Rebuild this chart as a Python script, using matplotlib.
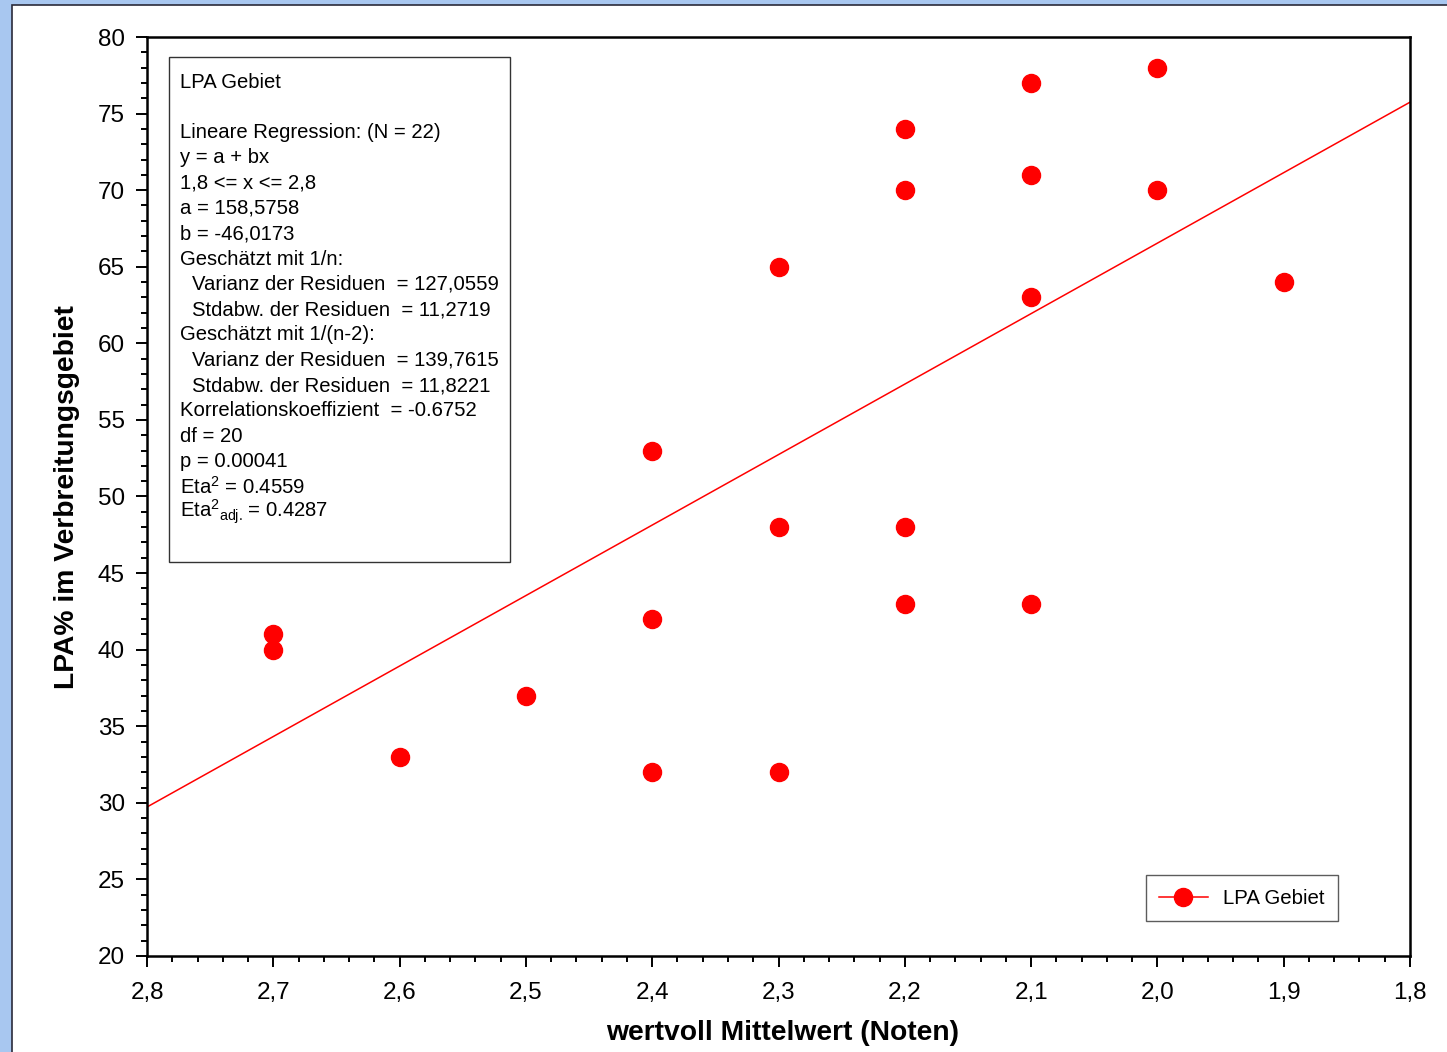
import matplotlib
matplotlib.use("Agg")
import matplotlib.pyplot as plt
from matplotlib.patches import Rectangle
from matplotlib.lines import Line2D
from matplotlib.ticker import MultipleLocator, FuncFormatter
import numpy as np

plt.rcParams['font.family'] = ['Liberation Sans', 'DejaVu Sans']
plt.rcParams['mathtext.fontset'] = 'custom'
plt.rcParams['mathtext.rm'] = 'Liberation Sans'
plt.rcParams['mathtext.it'] = 'Liberation Sans'
plt.rcParams['mathtext.bf'] = 'Liberation Sans:bold'

# Data
x_vals = [2.7, 2.7, 2.6, 2.5, 2.4, 2.4, 2.4, 2.3, 2.3, 2.3,
          2.2, 2.2, 2.2, 2.2, 2.1, 2.1, 2.1, 2.1, 2.0, 2.0, 1.9]
y_vals = [41, 40, 33, 37, 53, 42, 32, 65, 48, 32,
          74, 70, 48, 43, 77, 71, 63, 43, 78, 70, 64]
reg_a = 158.5758
reg_b = -46.0173
reg_x_range = [2.8, 1.8]
series_name = "LPA Gebiet"
x_label = "wertvoll Mittelwert (Noten)"
y_label = "LPA% im Verbreitungsgebiet"

stats_lines = [
    (0, "LPA Gebiet"),
    (0, ""),
    (0, "Lineare Regression: (N = 22)"),
    (0, "y = a + bx"),
    (0, "1,8 <= x <= 2,8"),
    (0, "a = 158,5758"),
    (0, "b = -46,0173"),
    (0, "Geschätzt mit 1/n:"),
    (1, "Varianz der Residuen  = 127,0559"),
    (1, "Stdabw. der Residuen  = 11,2719"),
    (0, "Geschätzt mit 1/(n-2):"),
    (1, "Varianz der Residuen  = 139,7615"),
    (1, "Stdabw. der Residuen  = 11,8221"),
    (0, "Korrelationskoeffizient  = -0.6752"),
    (0, "df = 20"),
    (0, "p = 0.00041"),
    (0, r"Eta$^2$ = 0.4559"),
    (0, r"Eta$^{2}{}_{\rm adj.}\,$= 0.4287"),
]

W, H = 1447, 1052
fig = plt.figure(figsize=(W / 100, H / 100), dpi=100)
fig.patch.set_facecolor('#a8c7f0')
fig.patches.append(Rectangle((12 / W, -0.1), 1.2, 1.1 - 5 / H, transform=fig.transFigure,
                             facecolor='white', edgecolor='#2a2a3a', linewidth=1.2, zorder=-5))

ax = fig.add_axes([147 / W, 1 - 956 / H, (1410 - 147) / W, (956 - 37) / H])
ax.set_facecolor('white')

# regression line
rx = np.array(reg_x_range)
ax.plot(rx, reg_a + reg_b * rx, color='#ff0000', linewidth=1.1, zorder=2)
ax.plot(x_vals, y_vals, linestyle='none', marker='o', markersize=13,
        color='#ff0000', markeredgecolor='#ff0000', zorder=3)

ax.set_xlim(2.8, 1.8)
ax.set_ylim(20, 80)
ax.xaxis.set_major_locator(MultipleLocator(0.1))
ax.xaxis.set_minor_locator(MultipleLocator(0.02))
ax.yaxis.set_major_locator(MultipleLocator(5))
ax.yaxis.set_minor_locator(MultipleLocator(1))
ax.xaxis.set_major_formatter(FuncFormatter(lambda v, p: f"{v:.1f}".replace('.', ',')))
ax.yaxis.set_major_formatter(FuncFormatter(lambda v, p: f"{int(round(v))}"))
ax.tick_params(which='major', direction='out', length=8, width=1.4, labelsize=17.5,
               colors='black')
ax.tick_params(axis='x', which='major', pad=11)
ax.tick_params(axis='y', which='major', pad=8)
ax.tick_params(which='minor', direction='out', length=4.5, width=1.4)
for s in ax.spines.values():
    s.set_linewidth(1.8)
    s.set_color('black')

fig.text(67 / W, 1 - 497 / H, y_label, rotation=90, ha='center', va='center',
         fontsize=20.3, fontweight='bold')
fig.text(783 / W, 1 - 1033 / H, x_label, ha='center', va='center',
         fontsize=20.3, fontweight='bold')

# stats box
axw, axh = 1410 - 147, 956 - 37
bx0 = (169 - 147) / axw
bx1 = (510 - 147) / axw
by1 = (956 - 57) / axh
by0 = (956 - 562) / axh
ax.add_patch(Rectangle((bx0, by0), bx1 - bx0, by1 - by0, transform=ax.transAxes,
                       facecolor='white', edgecolor='#333333', linewidth=1.0, zorder=4))
for i, (ind, txt) in enumerate(stats_lines):
    if not txt:
        continue
    ypix = 82 + i * 25.3
    xpix = 180 if ind == 0 else 192
    ax.text((xpix - 147) / axw, (956 - ypix) / axh, txt, transform=ax.transAxes,
            ha='left', va='center', fontsize=14.6, zorder=5)

handle = Line2D([], [], color='#ff0000', linewidth=1.1, marker='o', markersize=13)
leg = ax.legend([handle], [series_name], loc='lower right',
                bbox_to_anchor=((1338 - 147) / axw, (956 - 921) / axh),
                borderaxespad=0, fontsize=14.7, frameon=True, fancybox=False,
                handlelength=2.4, borderpad=0.65, handletextpad=0.75)
leg.get_frame().set_edgecolor('#333333')
leg.get_frame().set_linewidth(1.0)

fig.savefig("out.png", dpi=100, facecolor=fig.get_facecolor())
